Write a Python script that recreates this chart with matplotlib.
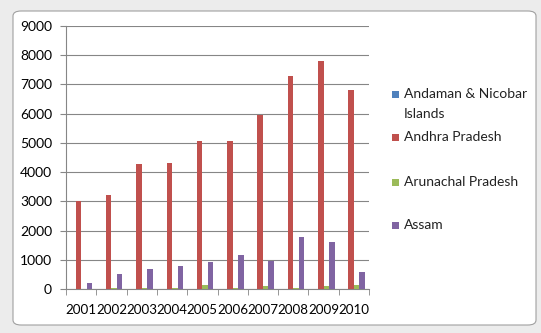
import numpy as np
import matplotlib.pyplot as plt
from matplotlib.patches import FancyBboxPatch, Rectangle

years = ['2001', '2002', '2003', '2004', '2005', '2006', '2007', '2008', '2009', '2010']
series_names = ['Andaman & Nicobar\nIslands', 'Andhra Pradesh', 'Arunachal Pradesh', 'Assam']
andaman = [2, 3, 3, 2, 4, 3, 3, 4, 3, 4]
andhra = [3000, 3200, 4270, 4300, 5050, 5050, 5950, 7300, 7800, 6800]
arunachal = [10, 50, 40, 40, 130, 50, 90, 50, 90, 130]
assam = [200, 500, 700, 800, 920, 1180, 950, 1780, 1600, 570]
colors = ['#4F81BD', '#C0504D', '#9BBB59', '#8064A2']

plt.rcParams['font.family'] = ['Lato', 'DejaVu Sans']

W, H = 541, 333
fig = plt.figure(figsize=(W / 100, H / 100), dpi=100)
fig.patch.set_facecolor('#ececec')

# white chart area with rounded corners, kept behind the axes
frame = FancyBboxPatch((13 / W, 8 / H), 523 / W, 314 / H,
                       boxstyle='round,pad=0,rounding_size=0.015',
                       transform=fig.transFigure, facecolor='white',
                       edgecolor='#a0a0a0', linewidth=0.8, zorder=-10)
fig.add_artist(frame)

ax = fig.add_axes([66 / W, 44 / H, 303 / W, 263 / H])
ax.set_facecolor('none')
ax.set_zorder(1)

x = np.arange(len(years))
w = 1 / 5.5
data = [andaman, andhra, arunachal, assam]
for i, (vals, c) in enumerate(zip(data, colors)):
    ax.bar(x + (i - 1.5) * w, vals, width=w, color=c, zorder=3)

ax.set_xlim(-0.5, len(years) - 0.5)
ax.set_ylim(0, 9000)
ax.set_yticks(range(0, 9001, 1000))
ax.yaxis.grid(True, color='#868686', linewidth=0.8)
ax.set_axisbelow(True)

ax.set_xticks(x)
ax.set_xticklabels(years)
ax.set_xticks(np.arange(-0.5, len(years)), minor=True)
ax.tick_params(axis='x', which='major', length=0, pad=11, labelsize=9.6)
ax.tick_params(axis='x', which='minor', length=4, color='#868686')
ax.tick_params(axis='y', length=4, color='#868686', labelsize=10, pad=6)

for s in ['top', 'right']:
    ax.spines[s].set_visible(False)
for s in ['left', 'bottom']:
    ax.spines[s].set_color('#868686')
    ax.spines[s].set_linewidth(0.8)

# legend: swatch lines up with the first line of each label
legend_y = [94, 137, 182, 225]
for name, c, yy in zip(series_names, colors, legend_y):
    fig.add_artist(Rectangle((392 / W, 1 - (yy + 3.5) / H), 7 / W, 7 / H,
                             transform=fig.transFigure, facecolor=c,
                             edgecolor='none'))
    fig.text(404 / W, 1 - (yy - 6) / H, name, fontsize=10, va='top',
             ha='left', linespacing=1.75, color='#222222')

fig.savefig('out.png', dpi=100, facecolor=fig.get_facecolor())
